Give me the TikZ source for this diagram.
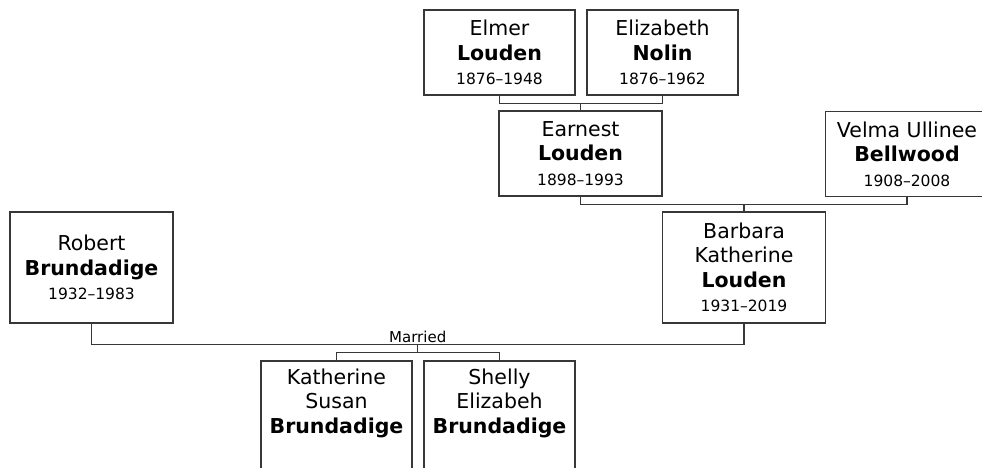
\documentclass[tikz,border=0pt]{standalone}
\usepackage{fontspec}
\setmainfont{DejaVu Sans}

\begin{document}
\begin{tikzpicture}[x=1pt,y=-1pt]

    % Farben
    \definecolor{linegray}{RGB}{55,55,55}

    % Stile
    \tikzset{
        person/.style={draw=linegray, line width=1.2pt, minimum width=151pt,
            minimum height=85pt, inner sep=0pt, align=center,
            font=\fontsize{20.5}{24.5}\selectfont},
        wide/.style={minimum width=163pt},
        tall/.style={minimum height=111pt},
        link/.style={draw=linegray, line width=1.2pt},
    }

    % Lebensdaten
    \newcommand{\yrs}[1]{{\fontsize{15.5}{21}\selectfont #1}}

    % Rahmen
    \clip (0,0) rectangle (982,468);

    % Großeltern
    \node[person] (elmer) at (499.5,52.5)
        {Elmer\\\textbf{Louden}\\\yrs{1876–1948}};
    \node[person] (elizabeth) at (662.5,52.5)
        {Elizabeth\\\textbf{Nolin}\\\yrs{1876–1962}};

    % Eltern
    \node[person, wide] (earnest) at (580.5,153.5)
        {Earnest\\\textbf{Louden}\\\yrs{1898–1993}};
    \node[person, wide] (velma) at (907,154)
        {Velma Ullinee\\\textbf{Bellwood}\\\yrs{1908–2008}};

    % Paar
    \node[person, wide, tall] (barbara) at (744,267.5)
        {Barbara\\Katherine\\\textbf{Louden}\\\yrs{1931–2019}};
    \node[person, wide, tall] (robert) at (91.5,267.5)
        {Robert\\\textbf{Brundadige}\\\yrs{1932–1983}};

    % Kinder
    \node[person, tall] (katherine) at (336.5,416.5)
        {Katherine\\Susan\\\textbf{Brundadige}\\\yrs{\strut}};
    \node[person, tall] (shelly) at (499.5,416.5)
        {Shelly\\Elizabeh\\\textbf{Brundadige}\\\yrs{\strut}};

    % Verbindungen
    \draw[link] (elmer.south) -- ++(0,8) coordinate (bar1) -| (elizabeth.south);
    \draw[link] (earnest.north) -- (earnest.north |- bar1);

    \draw[link] (earnest.south) -- ++(0,8) coordinate (bar2) -| (velma.south);
    \draw[link] (barbara.north) -- (barbara.north |- bar2);

    \draw[link] (robert.south) -- ++(0,21) coordinate (wedleft)
        -- (wedleft -| barbara.south)
            node[midway, above, inner sep=1.5pt, font=\fontsize{15}{18}\selectfont] (wed) {Married}
            coordinate[midway] (wedmid)
        -- (barbara.south);

    \draw[link] (wedmid) -- ++(0,8) coordinate (kidbar);
    \draw[link] (katherine.north) |- (kidbar) -| (shelly.north);

\end{tikzpicture}
\end{document}
